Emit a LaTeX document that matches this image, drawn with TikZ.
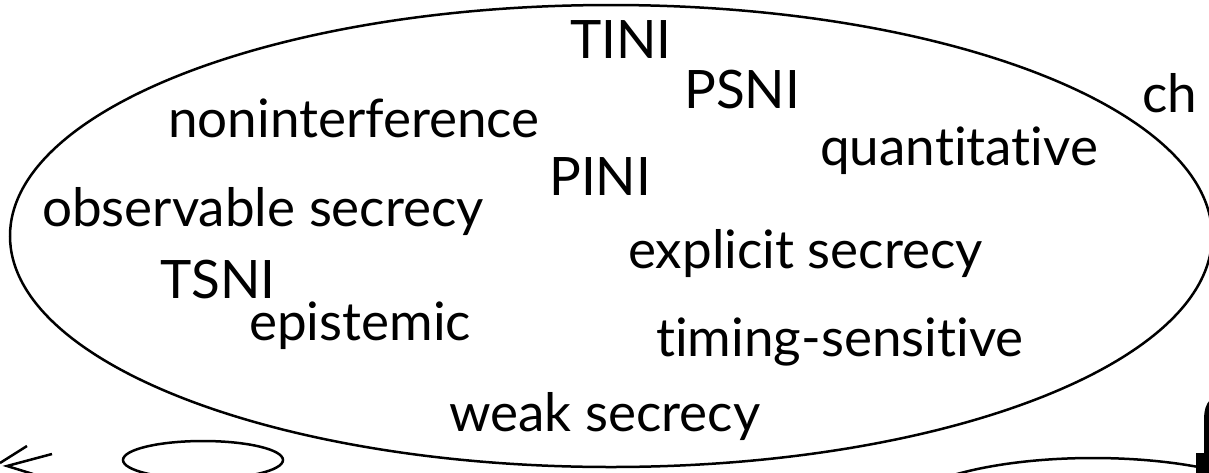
\documentclass[tikz,border=0pt]{standalone}
\usepackage{fontspec}
\setmainfont{Lato}[Ligatures={NoCommon,NoContextual}]
\begin{document}
\begin{tikzpicture}[x=1pt,y=-1pt,
  term/.style={anchor=base west,inner sep=0pt,font=\fontsize{53}{64}\selectfont},
  outline/.style={line width=2.5pt,draw=black}]
\useasboundingbox (0,0) rectangle (1209,472);
\clip (0,0) rectangle (1209,472);

% outer set of security notions
\coordinate (setc) at (611,236);
\draw[outline] (setc) ellipse [x radius=601, y radius=231];

% notions
\node[term] (tini)  at (570,58)  {TINI};
\node[term] (psni)  at (684,108) {PSNI};
\node[term] (nonint) at (168,137) {noninterference};
\node[term] (quant) at (820,165) {quantitative};
\node[term] (pini)  at (549,195) {PINI};
\node[term] (obs)   at (42,226)  {observable secrecy};
\node[term] (expl)  at (628,268) {explicit secrecy};
\node[term] (tsni)  at (160,298) {TSNI};
\node[term] (epi)   at (249,340) {epistemic};
\node[term] (timing) at (656,356) {timing-sensitive};
\node[term] (weak)  at (449,431) {weak secrecy};
\node[term] (ch)    at (1142,112) {ch};

% small set at the lower left
\coordinate (smallc) at (203,460);
\draw[outline] (smallc) ellipse [x radius=80, y radius=19];

% set at the lower right
\coordinate (lowc) at (1093,518);
\draw[outline] (lowc) ellipse [x radius=200, y radius=60];

% open arrowhead fragments at the left border
\coordinate (tip) at (7,466);
\coordinate (a1) at (0,463);
\coordinate (a2) at (27,446);
\coordinate (b1) at (52,454);
\coordinate (c1) at (33,474);
\draw[outline] (a1) -- (a2);
\draw[outline] (b1) -- (tip) -- (c1);

% dark shape at the lower right corner
\fill (1196,453) rectangle (1210,473);
\fill (1204,453) -- (1204,420) .. controls (1204,410) and (1206,404) .. (1210,400) -- (1210,453) -- cycle;
\end{tikzpicture}
\end{document}
